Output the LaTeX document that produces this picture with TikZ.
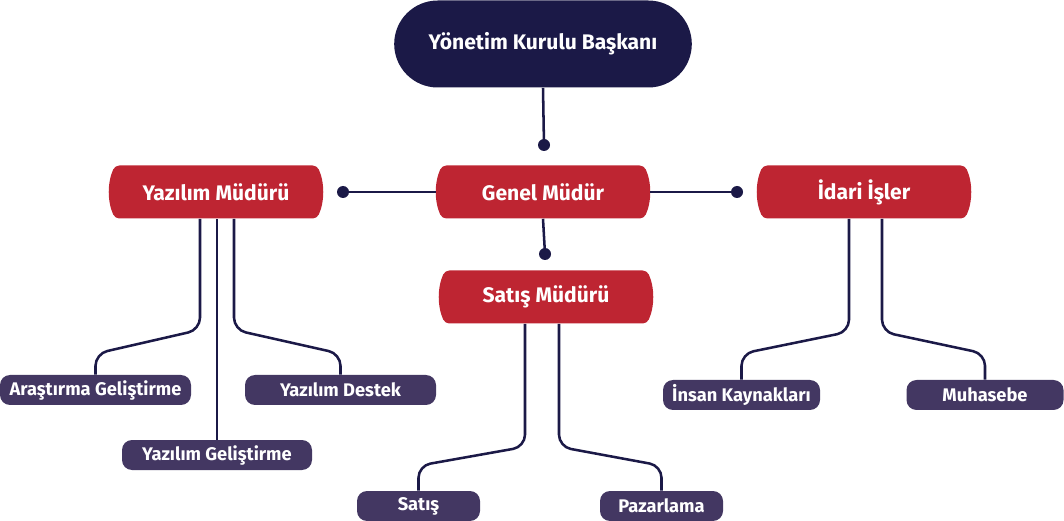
\documentclass[tikz,border=0pt]{standalone}
\usepackage{fontspec}
\setmainfont{Fira Sans}
\usepackage{xcolor}
\usepackage{tikz}
\usetikzlibrary{shapes.misc}

\definecolor{navy}{HTML}{1B1947}
\definecolor{chiefred}{HTML}{BE2532}
\definecolor{unitpurple}{HTML}{433762}

\begin{document}
\begin{tikzpicture}[
        board/.style={rounded rectangle, fill=navy, text=white, minimum width=7.675cm, minimum height=2.175cm, font=\fontsize{15}{18}\selectfont\bfseries},
        manager/.style={rounded rectangle, rounded rectangle arc length=50, rounded corners=3pt, fill=chiefred, text=white, minimum width=5.575cm, minimum height=1.325cm, font=\fontsize{15}{17}\selectfont\bfseries},
        unit/.style={rectangle, rounded corners=0.25cm, fill=unitpurple, text=white, minimum height=0.75cm, inner sep=0pt, font=\fontsize{13}{15}\selectfont\bfseries},
        dot/.style={circle, fill=navy, inner sep=0pt, minimum size=0.3cm},
        link/.style={draw=navy, line width=1.8pt, rounded corners=0.3cm}
    ]
        \useasboundingbox (0,0) rectangle (26.6,-13.025);

        \node[board] (ykb) at (13.575,-1.1) {Yönetim Kurulu Başkanı};
        \node[dot] (d-top) at (13.6,-3.625) {};

        \node[manager] (gm) at (13.575,-4.8) {Genel Müdür};
        \node[manager] (ym) at (5.4,-4.8) {Yazılım Müdürü};
        \node[manager] (ii) at (21.6,-4.8) {İdari İşler};
        \node[dot] (d-left) at (8.575,-4.8) {};
        \node[dot] (d-right) at (18.425,-4.8) {};
        \node[dot] (d-down) at (13.625,-6.35) {};
        \node[manager] (sm) at (13.65,-7.425) {Satış Müdürü};

        \node[unit, minimum width=4.775cm] (arge) at (2.3875,-9.75) {Araştırma Geliştirme};
        \node[unit, minimum width=4.775cm] (ydestek) at (8.5125,-9.75) {Yazılım Destek};
        \node[unit, minimum width=4.75cm] (ygel) at (5.425,-11.375) {Yazılım Geliştirme};
        \node[unit, minimum width=3.075cm] (satis) at (10.4625,-12.65) {Satış};
        \node[unit, minimum width=3.075cm] (pazar) at (16.5375,-12.65) {Pazarlama};
        \node[unit, minimum width=3.925cm] (ik) at (18.5375,-9.875) {İnsan Kaynakları};
        \node[unit, minimum width=3.925cm] (muh) at (24.625,-9.875) {Muhasebe};

        \draw[link] (ykb.south) -- (d-top.center);
        \draw[link] (gm.west) -- (d-left.center);
        \draw[link] (gm.east) -- (d-right.center);
        \draw[link] (gm.south) -- (d-down.center);

        \draw[link] ([xshift=-0.4cm]ym.south) -- ++(0,-2.775) -- ([yshift=0.525cm]arge.north) -- (arge.north);
        \draw[link] ([xshift=0.45cm]ym.south) -- ++(0,-2.775) -- ([yshift=0.525cm]ydestek.north) -- (ydestek.north);
        \draw[link] (ygel.north) -- (ygel.north |- ym.south);

        \draw[link] ([xshift=-0.525cm]sm.south) -- ++(0,-3.075) -- ([yshift=0.625cm]satis.north) -- (satis.north);
        \draw[link] ([xshift=0.325cm]sm.south) -- ++(0,-3.075) -- ([yshift=0.625cm]pazar.north) -- (pazar.north);

        \draw[link] ([xshift=-0.375cm]ii.south) -- ++(0,-2.825) -- ([yshift=0.65cm]ik.north) -- (ik.north);
        \draw[link] ([xshift=0.45cm]ii.south) -- ++(0,-2.825) -- ([yshift=0.65cm]muh.north) -- (muh.north);
    \end{tikzpicture}
\end{document}
